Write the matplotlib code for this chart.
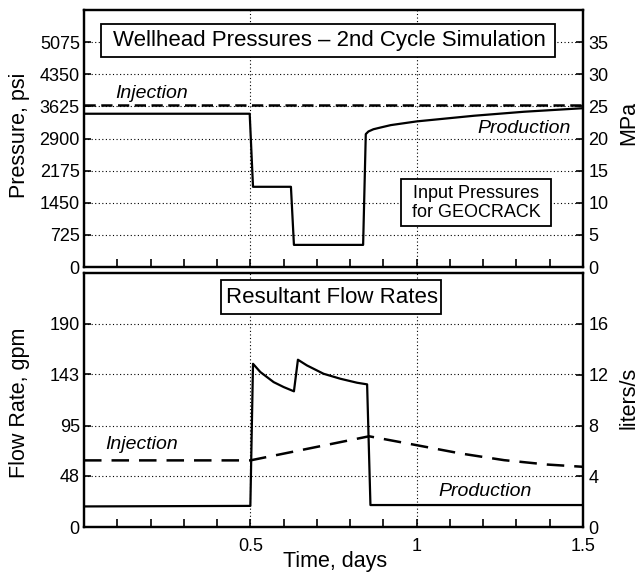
import numpy as np
import matplotlib
matplotlib.use('Agg')
import matplotlib.pyplot as plt
from matplotlib.patches import Rectangle
from matplotlib.ticker import MultipleLocator

plt.rcParams['font.family'] = ['Liberation Sans', 'DejaVu Sans']

#%% DATA
# wellhead pressures (psi) vs time (days)
t_inj_p = [0.0, 1.5]
p_inj = [3650, 3650]
t_prod_p = [0.0, 0.498, 0.508, 0.622, 0.631, 0.839, 0.847, 0.855, 0.870, 0.892,
            0.922, 1.0, 1.173, 1.323, 1.5]
p_prod = [3460, 3460, 1811, 1811, 500, 500, 3000, 3060, 3110, 3150,
          3203, 3287, 3415, 3505, 3585]

# resultant flow rates (gpm) vs time (days)
t_inj_q = [0.0, 0.5, 0.857, 1.0, 1.133, 1.263, 1.393, 1.5]
q_inj = [62.5, 62.5, 85, 76.7, 68.9, 62.7, 58.6, 56.5]
t_prod_q = [0.0, 0.5, 0.508, 0.53, 0.57, 0.60, 0.631, 0.643, 0.67, 0.72,
            0.771, 0.821, 0.851, 0.861, 1.5]
q_prod = [19.5, 20.0, 152.7, 145, 135.6, 131, 127, 156.5, 151.2, 143.4,
          138.7, 135, 133.5, 20.8, 20.8]

psi_ticks = [0, 725, 1450, 2175, 2900, 3625, 4350, 5075]
mpa_ticks = [0, 5, 10, 15, 20, 25, 30, 35]
gpm_ticks = [0, 48, 95, 143, 190]
lps_ticks = [0, 4, 8, 12, 16]
x_ticks = [0.5, 1.0, 1.5]
x_labels = ['0.5', '1', '1.5']

#%% FIGURE
fig = plt.figure(figsize=(6.38, 5.78), dpi=100)
ax1 = fig.add_axes([0.1317, 0.538, 0.7821, 0.4446])
ax2 = fig.add_axes([0.1317, 0.0877, 0.7821, 0.44], sharex=ax1)

grid_kw = dict(color='black', lw=0.8, ls=(0, (1, 2.2)), zorder=1)
TICK_FS = 13
LABEL_FS = 15.5
NOTE_FS = 14


def style_axes(ax, left_ticks, right_ticks, ylim_left, ylim_right):
    ax.set_xlim(0, 1.5)
    ax.set_ylim(*ylim_left)
    ax.set_yticks(left_ticks)
    ax.set_yticklabels([str(v) for v in left_ticks])
    ax.xaxis.set_minor_locator(MultipleLocator(0.1))
    ax.set_xticks(x_ticks)
    ax.tick_params(axis='both', which='both', direction='in', labelsize=TICK_FS,
                   width=1.2)
    ax.tick_params(axis='x', which='both', length=6, pad=8)
    ax.tick_params(axis='y', length=5, pad=3)
    for s in ax.spines.values():
        s.set_linewidth(1.6)
    for v in left_ticks[1:]:
        ax.axhline(v, **grid_kw)
    for v in x_ticks[:-1]:
        ax.axvline(v, **grid_kw)
    axr = ax.twinx()
    axr.set_ylim(*ylim_right)
    axr.set_yticks(right_ticks)
    axr.set_yticklabels([str(v) for v in right_ticks])
    axr.tick_params(axis='y', direction='in', length=5, pad=4, width=1.2,
                    labelsize=TICK_FS)
    for s in axr.spines.values():
        s.set_linewidth(1.6)
    return axr


ax1r = style_axes(ax1, psi_ticks, mpa_ticks, (0, 5800), (0, 40))
ax2r = style_axes(ax2, gpm_ticks, lps_ticks, (0, 237.5), (0, 20))
ax2.set_xticklabels(x_labels)
plt.setp(ax1.get_xticklabels(), visible=False)

# top panel - pressures
ax1.plot(t_inj_p, p_inj, color='black', lw=1.8, ls=(0, (4.5, 2.2)), zorder=3)
ax1.plot(t_prod_p, p_prod, color='black', lw=1.6, zorder=3)

# bottom panel - flow rates
ax2.plot(t_inj_q, q_inj, color='black', lw=1.8, ls=(0, (7, 4)), zorder=3)
ax2.plot(t_prod_q, q_prod, color='black', lw=1.6, zorder=3)

#%% ANNOTATIONS
ax1.add_patch(Rectangle((0.0335, 0.817), 0.9095, 0.1285, transform=ax1.transAxes,
                        facecolor='white', edgecolor='black', lw=1.3, zorder=4))
ax1.text(0.491, 0.881, 'Wellhead Pressures \u2013 2nd Cycle Simulation',
         transform=ax1.transAxes, ha='center', va='center', fontsize=16, zorder=5)

ax1.add_patch(Rectangle((0.635, 0.1595), 0.301, 0.183, transform=ax1.transAxes,
                        facecolor='white', edgecolor='black', lw=1.3, zorder=4))
ax1.text(0.7855, 0.251, 'Input Pressures\nfor GEOCRACK', transform=ax1.transAxes,
         ha='center', va='center', fontsize=13, linespacing=1.15, zorder=5)

ax1.text(0.062, 0.677, 'Injection', transform=ax1.transAxes, ha='left',
         va='center', fontsize=NOTE_FS, style='italic')
ax1.text(0.976, 0.541, 'Production', transform=ax1.transAxes, ha='right',
         va='center', fontsize=NOTE_FS, style='italic')

ax2.add_patch(Rectangle((0.274, 0.839), 0.441, 0.1335, transform=ax2.transAxes,
                        facecolor='white', edgecolor='black', lw=1.3, zorder=4))
ax2.text(0.496, 0.904, 'Resultant Flow Rates', transform=ax2.transAxes,
         ha='center', va='center', fontsize=16, zorder=5)

ax2.text(0.042, 0.324, 'Injection', transform=ax2.transAxes, ha='left',
         va='center', fontsize=NOTE_FS, style='italic')
ax2.text(0.711, 0.14, 'Production', transform=ax2.transAxes, ha='left',
         va='center', fontsize=NOTE_FS, style='italic')

# axis labels
fig.text(19.5 / 638, 1 - 135 / 578, 'Pressure, psi', rotation=90, ha='center',
         va='center', fontsize=LABEL_FS)
fig.text(629 / 638, 1 - 123 / 578, 'MPa', rotation=90, ha='center',
         va='center', fontsize=LABEL_FS)
fig.text(19.5 / 638, 1 - 403 / 578, 'Flow Rate, gpm', rotation=90, ha='center',
         va='center', fontsize=LABEL_FS)
fig.text(629 / 638, 1 - 398 / 578, 'liters/s', rotation=90, ha='center',
         va='center', fontsize=LABEL_FS)
fig.text(335.5 / 638, 1 - 562 / 578, 'Time, days', ha='center', va='center',
         fontsize=LABEL_FS)

fig.savefig('out.png', dpi=100)
